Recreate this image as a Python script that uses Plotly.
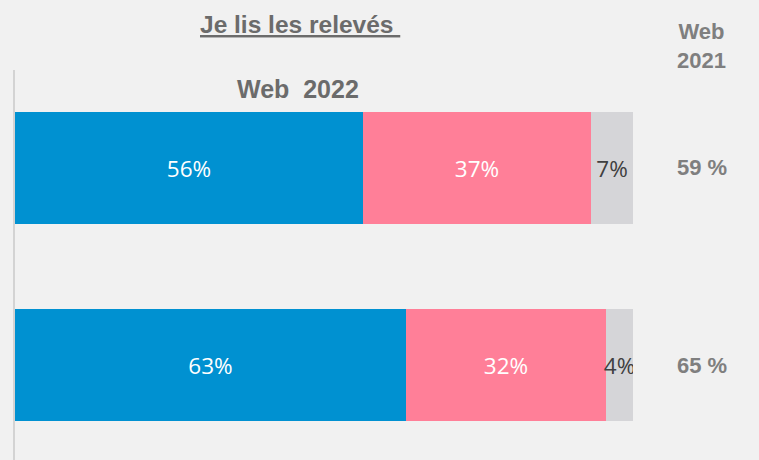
import plotly.graph_objects as go

# Data
rows = [0, 1]  # two survey rows (top to bottom)
web2022_yes = [56.3, 63.3]
web2022_no = [36.9, 32.3]
web2022_nr = [6.8, 4.4]
label_yes = ["56%", "63%"]
label_no = ["37%", "32%"]
label_nr = ["7%", "4%"]
web2021_labels = ["59 %", "65 %"]

title_text = "Je lis les relevés"
subtitle_text = "Web&nbsp; 2022"
right_header = "Web<br>2021"

W, H = 759, 460
ML, MR, MT, MB = 15, 126, 70, 0
PW = W - ML - MR

def px_to_paper_x(px):
    return (px - ML) / PW

def px_to_paper_y(py):
    return 1 - (py - MT) / (H - MT - MB)

fig = go.Figure()
bar_w = 0.569
common = dict(orientation="h", width=bar_w, textposition="inside",
              insidetextanchor="middle", textangle=0, constraintext="none",
              hoverinfo="skip")
fig.add_trace(go.Bar(
    y=rows, x=web2022_yes, marker=dict(color="#0091d1", line=dict(width=0)),
    text=label_yes, textfont=dict(family="Open Sans", size=22.5, color="white"), **common))
fig.add_trace(go.Bar(
    y=rows, x=web2022_no, marker=dict(color="#ff7f98", line=dict(width=0)),
    text=label_no, textfont=dict(family="Open Sans", size=22.5, color="white"), **common))
fig.add_trace(go.Bar(
    y=rows, x=web2022_nr, marker=dict(color="#d5d5d8", line=dict(width=0)),
    text=label_nr, textfont=dict(family="Open Sans", size=22.5, color="#404040"), **common))

annotations = [
    dict(text="<u>" + title_text + "&nbsp;</u>", x=px_to_paper_x(300), y=px_to_paper_y(25),
         xref="paper", yref="paper", showarrow=False, xanchor="center", yanchor="middle",
         font=dict(family="Liberation Sans", size=24.5, color="#6b6b6b", weight="bold")),
    dict(text=subtitle_text, x=px_to_paper_x(298), y=px_to_paper_y(89),
         xref="paper", yref="paper", showarrow=False, xanchor="center", yanchor="middle",
         font=dict(family="Liberation Sans", size=25, color="#6b6b6b", weight="bold")),
    dict(text=right_header, x=px_to_paper_x(701), y=px_to_paper_y(46),
         xref="paper", yref="paper", showarrow=False, xanchor="center", yanchor="middle",
         font=dict(family="Liberation Sans", size=22, color="#7f7f7f", weight="bold")),
]
for r, lab in zip(rows, web2021_labels):
    annotations.append(dict(text=lab, x=px_to_paper_x(702), y=r,
                            xref="paper", yref="y", showarrow=False,
                            xanchor="center", yanchor="middle",
                            font=dict(family="Liberation Sans", size=22, color="#7f7f7f",
                                      weight="bold")))

fig.update_layout(
    width=W, height=H,
    margin=dict(l=ML, r=MR, t=MT, b=MB, pad=0),
    barmode="stack", bargap=0,
    paper_bgcolor="#f1f1f1", plot_bgcolor="#f1f1f1",
    showlegend=False,
    xaxis=dict(range=[0, 100], visible=False, fixedrange=True),
    yaxis=dict(range=[1.482, -0.497], showline=True, linecolor="#d3d3d3", linewidth=2,
               showgrid=False, zeroline=False, showticklabels=False, ticks="",
               fixedrange=True),
    annotations=annotations,
)

fig.write_html("out.html", config={"displayModeBar": False},
               post_script="document.body.style.margin='0';document.body.style.background='#f1f1f1';")
